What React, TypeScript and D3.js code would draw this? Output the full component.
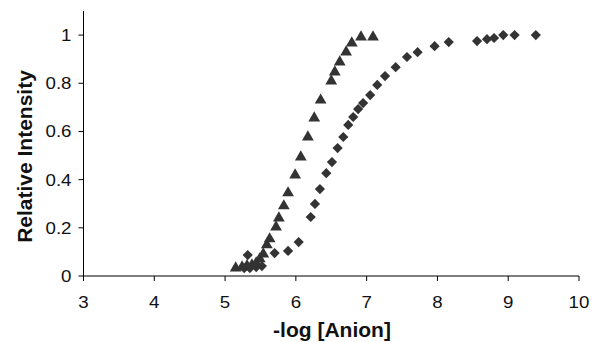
import React from "react";
import * as d3 from "d3";

const xTicks = [3, 4, 5, 6, 7, 8, 9, 10];
const yTicks = [0, 0.2, 0.4, 0.6, 0.8, 1];
const yTickLabels = ["0", "0.2", "0.4", "0.6", "0.8", "1"];

const triX = [5.15, 5.24, 5.31, 5.38, 5.44, 5.49, 5.54, 5.59, 5.63, 5.72, 5.76, 5.83, 5.89, 5.99, 6.07, 6.17, 6.26, 6.35, 6.5, 6.55, 6.62, 6.71, 6.79, 6.92, 7.09];
const triY = [0.037, 0.041, 0.046, 0.05, 0.058, 0.075, 0.095, 0.133, 0.158, 0.207, 0.245, 0.295, 0.349, 0.423, 0.498, 0.581, 0.66, 0.734, 0.813, 0.851, 0.892, 0.934, 0.971, 0.996, 0.996];

const diaX = [5.27, 5.35, 5.44, 5.52, 5.32, 5.7, 5.89, 6.04, 6.21, 6.27, 6.34, 6.43, 6.51, 6.59, 6.67, 6.74, 6.81, 6.88, 6.95, 7.05, 7.15, 7.26, 7.41, 7.57, 7.72, 7.96, 8.16, 8.56, 8.7, 8.8, 8.93, 9.09, 9.39];
const diaY = [0.033, 0.033, 0.037, 0.041, 0.087, 0.095, 0.104, 0.141, 0.245, 0.299, 0.361, 0.427, 0.473, 0.531, 0.577, 0.627, 0.66, 0.693, 0.718, 0.751, 0.793, 0.83, 0.867, 0.909, 0.929, 0.954, 0.971, 0.975, 0.983, 0.988, 1.0, 1.0, 1.0];

export default function App() {
  const W = 592, H = 342;
  const x = d3.scaleLinear().domain([3, 10]).range([83.5, 579]);
  const y = d3.scaleLinear().domain([0, 1.1]).range([276, 11]);
  const tri = d3.symbol().type(d3.symbolTriangle).size(60)();
  const dia = d3.symbol().type(d3.symbolSquare).size(52)();
  const color = "#333333";
  const font = "Liberation Sans, Arial, Helvetica, sans-serif";
  return (
    <svg width={W} height={H} style={{ position: "absolute", left: 0, top: 0, background: "#fff" }} fontFamily={font}>
      <line x1={x(3)} x2={x(3)} y1={y(1.1)} y2={y(0)} stroke="#000" strokeWidth={1} />
      <line x1={x(3)} x2={x(10)} y1={y(0)} y2={y(0)} stroke="#000" strokeWidth={1} />
      {yTicks.map((t, i) => (
        <g key={"y" + i}>
          <line x1={x(3) - 5} x2={x(3)} y1={y(t)} y2={y(t)} stroke="#000" />
          <text x={x(3) - 12} y={y(t) + 6} textAnchor="end" fontSize={17} fill="#111" transform={`translate(${x(3) - 12},0) scale(1.1,1) translate(${-(x(3) - 12)},0)`}>{yTickLabels[i]}</text>
        </g>
      ))}
      {xTicks.map((t, i) => (
        <g key={"x" + i}>
          <line x1={x(t)} x2={x(t)} y1={y(0)} y2={y(0) + 5} stroke="#000" />
          <text x={x(t)} y={y(0) + 32} textAnchor="middle" fontSize={17} fill="#111" transform={`translate(${x(t)},0) scale(1.1,1) translate(${-x(t)},0)`}>{t}</text>
        </g>
      ))}
      <text x={332} y={337} textAnchor="middle" fontSize={21} fontWeight="bold" fill="#111">-log [Anion]</text>
      <text transform={`translate(32,156.5) rotate(-90)`} textAnchor="middle" fontSize={21} fontWeight="bold" fill="#111">Relative Intensity</text>
      {diaX.map((v, i) => (
        <path key={"d" + i} d={dia} transform={`translate(${x(v)},${y(diaY[i])}) rotate(45)`} fill={color} />
      ))}
      {triX.map((v, i) => (
        <path key={"t" + i} d={tri} transform={`translate(${x(v)},${y(triY[i]) + 1})`} fill={color} />
      ))}
    </svg>
  );
}
